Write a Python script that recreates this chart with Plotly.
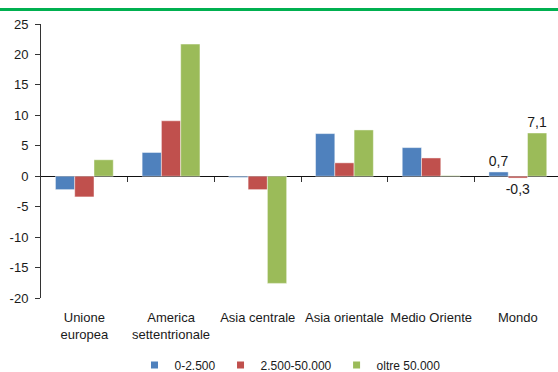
import plotly.graph_objects as go

categories = ["Unione<br>europea", "America<br>settentrionale", "Asia centrale",
              "Asia orientale", "Medio Oriente", "Mondo"]
series_names = ["0-2.500", "2.500-50.000", "oltre 50.000"]
v_small = [-2.2, 3.9, -0.2, 7.0, 4.7, 0.7]
v_mid = [-3.4, 9.1, -2.2, 2.2, 3.0, -0.3]
v_large = [2.7, 21.7, -17.6, 7.6, 0.1, 7.1]
colors = ["#4F81BD", "#C0504D", "#9BBB59"]
y_ticks = [-20, -15, -10, -5, 0, 5, 10, 15, 20, 25]

W, H = 558, 372
L, T, B = 41, 24, 74
plot_w = W - L
plot_h = H - T - B
FONT = "Liberation Sans, Arial, sans-serif"
TXT = "#1a1a1a"


def lab(vals):
    out = []
    for i, v in enumerate(vals):
        out.append(f"{v:.1f}".replace(".", ",") if i == len(vals) - 1 else "")
    return out


fig = go.Figure()
xs = list(range(len(categories)))
for name, vals, col in zip(series_names, [v_small, v_mid, v_large], colors):
    fig.add_trace(go.Bar(
        x=xs, y=vals, name=name, marker_color=col,
        marker_line=dict(color="rgba(255,255,255,0.45)", width=1),
        text=lab(vals), textposition="outside", cliponaxis=False,
        constraintext="none",
        textfont=dict(size=14, color=TXT, family=FONT),
        showlegend=False,
    ))
    # legend entries with small square symbols
    fig.add_trace(go.Scatter(
        x=[None], y=[None], mode="markers", name=name,
        marker=dict(symbol="square", size=7, color=col),
        showlegend=True,
    ))

# category boundary ticks crossing the zero line
fig.add_trace(go.Scatter(x=[None], y=[None], xaxis="x2", showlegend=False))

x_range = [-0.5, -0.5 + plot_w / 86.7]
y_range = [-20, 25]

fig.update_layout(
    width=W, height=H,
    margin=dict(l=L, r=0, t=T, b=B),
    plot_bgcolor="white", paper_bgcolor="white",
    separators=",.",
    barmode="group", bargap=0.333, bargroupgap=0,
    font=dict(family=FONT, size=13, color=TXT),
    xaxis=dict(
        range=x_range, tickmode="array", tickvals=xs, ticktext=categories,
        showline=False, ticks="", showgrid=False, zeroline=False,
        tickfont=dict(size=13, color=TXT), ticklabelstandoff=10,
    ),
    xaxis2=dict(
        range=x_range, overlaying="x", anchor="free",
        position=(0 - y_range[0]) / (y_range[1] - y_range[0]),
        tickmode="array", tickvals=[i + 0.5 for i in xs[:-1]],
        ticks="outside", ticklen=5, tickcolor="#333", tickwidth=1,
        showticklabels=False, showline=False, showgrid=False, zeroline=False,
    ),
    yaxis=dict(
        range=y_range, tickmode="array", tickvals=y_ticks,
        ticktext=[str(t) for t in y_ticks],
        showline=True, linecolor="#333", linewidth=1,
        ticks="outside", ticklen=5, tickcolor="#333",
        showgrid=False, zeroline=True, zerolinecolor="#111", zerolinewidth=1,
        tickfont=dict(size=13, color=TXT), ticklabelstandoff=4,
    ),
    legend=dict(
        orientation="h", xref="container", yref="container",
        x=290 / W, xanchor="center", y=1 - 365 / H, yanchor="middle",
        font=dict(size=12, color=TXT, family=FONT),
        itemwidth=30, tracegroupgap=0, bgcolor="rgba(0,0,0,0)",
    ),
    shapes=[dict(
        type="line", xref="paper", yref="paper",
        x0=-L / plot_w, x1=1.0, y0=1 + (T - 9.5) / plot_h, y1=1 + (T - 9.5) / plot_h,
        line=dict(color="#00B050", width=3),
    )],
)

fig.write_html("out.html")
